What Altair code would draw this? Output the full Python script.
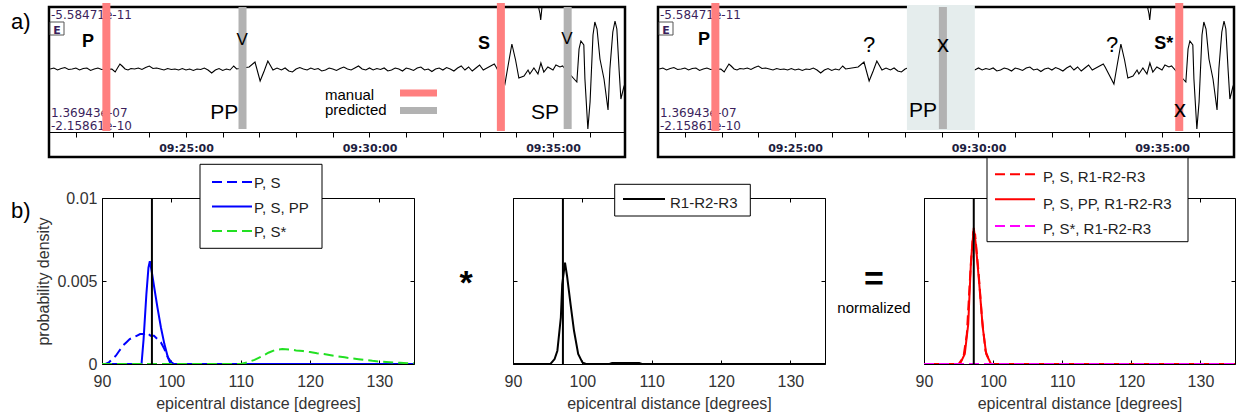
import altair as alt
import pandas as pd

FONT = "Liberation Sans"

# ---------------- (a) seismogram: one trace, drawn in both panels ----------------
# (time in minutes after 09:00, amplitude in display counts)
trace = [
    (21.3, 0), (21.4, 1), (21.5, -1), (21.6, 0.5), (21.7, 1.5), (21.8, -0.5), (21.9, 0), (22.0, 1),
    (22.1, -1), (22.2, 0.5), (22.3, 1), (22.4, -1.5), (22.5, 0), (22.6, 1), (22.7, -0.5),
    (22.98, 0), (23.07, -3), (23.15, 2), (23.20, 5), (23.26, 3), (23.34, 0), (23.42, -1), (23.50, 0.5),
    (23.6, 0), (23.7, 1), (23.8, -0.5), (23.9, 1.5), (24.0, 3), (24.1, 0.5), (24.2, 1), (24.3, 0),
    (24.4, -1), (24.5, 0.5), (24.6, -0.5), (24.7, 0), (24.8, -1), (24.9, 0.5), (25.0, -1), (25.1, 0),
    (25.2, -1.5), (25.3, 0), (25.4, -0.5), (25.5, 1), (25.6, -1), (25.7, -4), (25.8, -1), (25.9, 0.5),
    (26.0, -1.5), (26.1, 0), (26.2, -1), (26.3, 3), (26.38, 0),
    (26.72, 2), (26.88, 7), (27.02, -12), (27.13, -2), (27.23, 8), (27.37, -1), (27.48, 1),
    (27.6, -1), (27.7, 1), (27.8, -2), (27.9, -3), (28.0, 0), (28.1, 1.5), (28.2, 0), (28.3, -1),
    (28.4, 1), (28.5, -0.5), (28.6, 0.5), (28.7, -2), (28.8, -1), (28.9, 1), (29.0, 0), (29.1, -1.5),
    (29.2, 0.5), (29.3, 2), (29.4, 0), (29.5, -1), (29.6, 1), (29.7, 3), (29.8, 0), (29.9, -1),
    (30.0, 1), (30.1, -1), (30.2, 0.5), (30.3, -0.5), (30.4, 1), (30.5, -2), (30.6, -1), (30.7, 1),
    (30.8, 0), (30.9, -2), (31.0, 1), (31.1, 0), (31.2, -1.5), (31.3, 1), (31.4, 2), (31.5, -1),
    (31.6, 0), (31.7, -2.5), (31.8, 0), (31.9, 1), (32.0, -1), (32.1, 1.5), (32.2, 0), (32.3, -2),
    (32.4, 1), (32.5, 3), (32.6, -1), (32.7, 2), (32.8, -2), (32.9, 1), (33.0, 4), (33.1, -1),
    (33.2, 1), (33.3, 3), (33.4, 5), (33.45, 2),
    (33.69, -15), (33.77, 2), (33.88, 25), (33.98, 9), (34.07, -9), (34.21, -7), (34.32, -1),
    (34.37, -5), (34.48, 1), (34.59, -5), (34.67, 6), (34.75, -3), (34.86, 2), (35.00, -1),
    (35.08, 4), (35.19, 2), (35.26, 3),
    (35.60, -11), (35.65, -13), (35.71, 20), (35.76, 28), (35.84, 24), (35.87, -10), (35.95, -60),
    (36.01, -33), (36.09, 34), (36.14, 47), (36.20, 40), (36.28, 10), (36.39, -10), (36.50, -41),
    (36.55, 0), (36.63, 37), (36.69, 48), (36.74, 40), (36.80, 0), (36.85, -30), (36.93, -18), (36.96, -15),
]
spike_t = [34.605, 34.646, 34.665, 34.687, 34.700]
spike_a = [62, 55, 49, 57, 62]
time_domain = [21.267, 36.962]
time_ticks = list(range(22, 37))
amp_labels = ["-5.58471e-11", "1.36943e-07", "-2.15861e-10"]

left_pick_t = [22.83, 26.54, 33.58, 35.40]
left_pick_kind = ["manual", "predicted", "manual", "predicted"]
right_pick_t = [22.83, 29.03, 35.47]
right_pick_kind = ["manual", "predicted", "manual"]
pp_window = [28.05, 29.90]

# phase annotations: text, time, amplitude, size, weight
left_notes = [("P", 22.33, 22, 18, "bold"), ("V", 26.53, 24, 17, "normal"), ("PP", 26.04, -49.5, 21, "normal"),
              ("S", 33.12, 20, 18, "bold"), ("V", 35.38, 25, 17, "normal"), ("SP", 34.78, -50, 21, "normal")]
right_notes = [("P", 22.52, 24, 18, "bold"), ("?", 27.02, 17, 22, "normal"), ("x", 29.03, 17, 24, "normal"),
               ("PP", 28.49, -48, 21, "normal"), ("?", 33.64, 17, 22, "normal"), ("S*", 35.05, 20, 18, "bold"),
               ("x", 35.49, -48, 24, "normal")]

# ---------------- (b) epicentral distance densities ----------------
true_dist = 97.2
ps_d = [90, 90.5, 91, 91.5, 92, 92.5, 93, 93.5, 94, 94.5, 95, 95.5, 96, 96.5, 97, 97.5, 98, 98.5, 99, 99.5, 100, 100.5, 135]
ps_p = [0, 0, 0.0001, 0.0003, 0.0005, 0.0008, 0.0011, 0.0013, 0.0015, 0.0016, 0.0017, 0.0018, 0.0018, 0.0019,
        0.0017, 0.0017, 0.0015, 0.0013, 0.0009, 0.0004, 0.0001, 0, 0]
pspp_d = [90, 95.7, 96.0, 96.4, 96.7, 96.9, 97.2, 97.5, 98.0, 98.5, 99.0, 99.5, 99.9, 135]
pspp_p = [0, 0, 0.0015, 0.0042, 0.0058, 0.0062, 0.0055, 0.0047, 0.0034, 0.0022, 0.0012, 0.0004, 0, 0]
pss_d = [90, 110, 111, 112, 113, 114, 115, 116, 117, 118, 119, 120, 121, 122, 123, 124, 125, 126, 127, 128,
         129, 130, 131, 132, 133, 134, 135]
pss_p = [0, 0, 0.0001, 0.00025, 0.00045, 0.00068, 0.00085, 0.0009, 0.00088, 0.00082, 0.00078, 0.00072, 0.00065,
         0.0006, 0.00053, 0.00046, 0.0004, 0.00034, 0.00029, 0.00024, 0.00019, 0.00015, 0.00012, 0.00009,
         0.00007, 0.00005, 0.00004]
r_d = [90, 95.4, 96.0, 96.4, 96.9, 97.1, 97.5, 97.8, 98.3, 98.8, 99.4, 100.0, 100.5, 103.9, 104.3, 108.2, 108.6, 135]
r_p = [0, 0, 0.0003, 0.0008, 0.0028, 0.0048, 0.0061, 0.0053, 0.0036, 0.002, 0.0006, 0.0001, 0, 0, 0.00006,
       0.00006, 0, 0]
psr_d = [90, 95.0, 95.7, 96.2, 96.7, 97.1, 97.4, 97.9, 98.4, 98.9, 99.6, 135]
psr_p = [0, 0, 0.0004, 0.0018, 0.0055, 0.0079, 0.0078, 0.0055, 0.0027, 0.0008, 0, 0]
psppr_d = [90, 95.2, 95.9, 96.4, 96.8, 97.2, 97.5, 98.0, 98.5, 99.0, 99.7, 135]
psppr_p = [0, 0, 0.0006, 0.0024, 0.0062, 0.0082, 0.0072, 0.0048, 0.0022, 0.0006, 0, 0]
pssr_d = [90, 135]
pssr_p = [0, 0]
dist_ticks = [90, 100, 110, 120, 130]
dens_ticks = [0, 0.005, 0.01]

MANUAL = "#ff7f7f"
PREDICTED = "#b2b2b2"
AMPC = "#3b1f5c"
TXT = "#333333"

one = pd.DataFrame({"k": [0]})
xs_t = alt.Scale(domain=time_domain, nice=False, zero=False)
ys_a = alt.Scale(domain=[-88, 62], nice=False, zero=False)
xs_d = alt.Scale(domain=[90, 135], nice=False, zero=False)
ys_d = alt.Scale(domain=[0, 0.01], nice=False, zero=False)
NOFRAME = alt.ViewBackground(stroke="transparent", strokeWidth=0)


def px_text(txt, x, y, size, weight="normal", color="black", font=FONT, align="left", baseline="alphabetic"):
    return alt.Chart(one).mark_text(text=txt, fontSize=size, fontWeight=weight, color=color, font=font,
                                    align=align, baseline=baseline).encode(x=alt.value(x), y=alt.value(y))


time_axis = alt.Axis(orient="bottom", offset=-25, values=time_ticks,
                     labelExpr="datum.value % 5 == 0 ? '09:' + datum.value + ':00' : ''",
                     tickSize=5, tickColor="black", tickWidth=1, domainColor="black", domainWidth=1,
                     labelFont="DejaVu Sans", labelFontWeight="bold", labelFontSize=11, labelColor="#1e1e40",
                     labelPadding=5, labelOverlap=False, labelFlush=False, grid=False, title=None, zindex=1)


def seis_panel(pick_t, pick_kind, notes, window=None, legend=False, tag=None):
    tdf = pd.DataFrame(trace, columns=["t", "a"])
    layers = [
        px_text(amp_labels[0], 2, 11.7, 12, color=AMPC, font="DejaVu Sans"),
        px_text(amp_labels[1], 2, 110, 12, color=AMPC, font="DejaVu Sans"),
        px_text(amp_labels[2], 2, 123, 12, color=AMPC, font="DejaVu Sans"),
        alt.Chart(one).mark_rect(fill="white", stroke="#555555", strokeWidth=1).encode(
            x=alt.value(1), x2=alt.value(15), y=alt.value(15), y2=alt.value(28)),
        px_text("E", 8, 27, 11, "bold", color=AMPC, font="DejaVu Sans", align="center"),
        alt.Chart(tdf).mark_line(color="black", strokeWidth=1.1, clip=True).encode(
            x=alt.X("t:Q", scale=xs_t, axis=time_axis), y=alt.Y("a:Q", scale=ys_a, axis=None)),
        alt.Chart(pd.DataFrame({"t": spike_t, "a": spike_a})).mark_line(color="black", strokeWidth=1.1, clip=True).encode(
            x=alt.X("t:Q", scale=xs_t, axis=None), y=alt.Y("a:Q", scale=ys_a, axis=None)),
    ]
    if window:
        layers.append(alt.Chart(pd.DataFrame({"t": [window[0]], "t2": [window[1]]})).mark_rect(
            color="#e5eded", opacity=1).encode(
            x=alt.X("t:Q", scale=xs_t, axis=None), x2="t2:Q", y=alt.value(-2), y2=alt.value(123)))
    picks = pd.DataFrame({"t": pick_t, "kind": pick_kind})
    for kind, col, center, size in [("predicted", PREDICTED, 61, 122), ("manual", MANUAL, 60, 128)]:
        layers.append(alt.Chart(picks).transform_filter(alt.datum.kind == kind).mark_tick(
            color=col, thickness=8, size=size, opacity=1).encode(
            x=alt.X("t:Q", scale=xs_t, axis=None), y=alt.value(center)))
    for txt, t, a, size, weight in notes:
        layers.append(alt.Chart(pd.DataFrame({"t": [t], "a": [a]})).mark_text(
            text=txt, fontSize=size, fontWeight=weight, font=FONT, color="black", align="center",
            baseline="alphabetic").encode(
            x=alt.X("t:Q", scale=xs_t, axis=None), y=alt.Y("a:Q", scale=ys_a, axis=None)))
    if legend:
        layers += [
            px_text("manual", 276, 93, 15),
            px_text("predicted", 276, 108, 15),
            alt.Chart(one).mark_rule(color=MANUAL, strokeWidth=7).encode(
                x=alt.value(351), x2=alt.value(388), y=alt.value(86)),
            alt.Chart(one).mark_rule(color=PREDICTED, strokeWidth=7).encode(
                x=alt.value(351), x2=alt.value(388), y=alt.value(103.5)),
        ]
    if tag:
        layers.append(px_text(tag, -38, 22, 22))
    return alt.layer(*layers).resolve_axis(x="independent", y="independent").properties(
        width=576, height=150, view=alt.ViewBackground(stroke="black", strokeWidth=2.5, fill="white"))


def dens_panel(series, box, rows, width, ylabels):
    bottom_axis = alt.Axis(orient="bottom", values=dist_ticks, tickSize=4, offset=-4, domain=False, grid=False,
                           tickColor="black", labelFont=FONT, labelFontSize=16, labelColor=TXT, labelPadding=9,
                           labelFlush=False, title="epicentral distance [degrees]", titleFont=FONT,
                           titleFontSize=16, titleFontWeight="normal", titleColor=TXT, titlePadding=6)
    left_kw = dict(orient="left", values=dens_ticks, tickSize=4, offset=-4, domain=False, grid=False,
                   tickColor="black")
    if ylabels:
        left_axis = alt.Axis(**left_kw, format=".3~f", labelFont=FONT, labelFontSize=16, labelColor=TXT,
                             labelPadding=5, title="probability density", titleFont=FONT, titleFontSize=16,
                             titleFontWeight="normal", titleColor=TXT, titlePadding=5)
    else:
        left_axis = alt.Axis(**left_kw, labels=False, title=None)
    top_axis = alt.Axis(orient="top", values=dist_ticks, tickSize=4, offset=-4, domain=False, grid=False,
                        tickColor="black", labels=False, title=None)
    right_axis = alt.Axis(orient="right", values=dens_ticks, tickSize=4, offset=-4, domain=False, grid=False,
                          tickColor="black", labels=False, title=None)
    layers = []
    for i, (xd, yp, color, dashed) in enumerate(series):
        mk = dict(color=color, strokeWidth=2, clip=True)
        if dashed:
            mk["strokeDash"] = [10, 5]
        if i == 0:
            enc = dict(x=alt.X("d:Q", scale=xs_d, axis=bottom_axis), y=alt.Y("p:Q", scale=ys_d, axis=left_axis))
        else:
            enc = dict(x=alt.X("d:Q", scale=xs_d, axis=None), y=alt.Y("p:Q", scale=ys_d, axis=None))
        layers.append(alt.Chart(pd.DataFrame({"d": xd, "p": yp})).mark_line(**mk).encode(**enc))
    ref = pd.DataFrame({"d": [true_dist], "lo": [0.0], "hi": [0.01]})
    layers.append(alt.Chart(ref).mark_rule(color="black", strokeWidth=2).encode(
        x=alt.X("d:Q", scale=xs_d, axis=top_axis), y=alt.Y("lo:Q", scale=ys_d, axis=right_axis), y2="hi:Q"))
    bx1, bx2, by1, by2, lx1, lx2, tx = box
    layers.append(alt.Chart(one).mark_rect(fill="white", stroke="black", strokeWidth=1).encode(
        x=alt.value(bx1), x2=alt.value(bx2), y=alt.value(by1), y2=alt.value(by2)))
    for label, color, dashed, yl, yt in rows:
        mk = dict(color=color, strokeWidth=2)
        if dashed:
            mk["strokeDash"] = [10, 5]
        layers.append(alt.Chart(one).mark_rule(**mk).encode(x=alt.value(lx1), x2=alt.value(lx2), y=alt.value(yl)))
        layers.append(px_text(label, tx, yt, 15, color="#222222", baseline="middle"))
    return alt.layer(*layers).resolve_axis(x="independent", y="independent").properties(
        width=width, height=166, view=alt.ViewBackground(stroke="black", strokeWidth=1, fill="white"))


BLUE, GREEN, RED, MAG = "#0000ff", "#22e022", "#ff0000", "#ff00ff"

p1 = dens_panel(
    [(ps_d, ps_p, BLUE, True), (pspp_d, pspp_p, BLUE, False), (pss_d, pss_p, GREEN, True)],
    (98, 220, -33.7, 50.3, 110, 150, 152),
    [("P, S", BLUE, True, -16, -15), ("P, S, PP", BLUE, False, 8.5, 9.5), ("P, S*", GREEN, True, 33, 34)],
    312, True)
p2 = dens_panel(
    [(r_d, r_p, "black", False)],
    (101.7, 237.3, -13.7, 18, 110, 152, 157),
    [("R1-R2-R3", "black", False, 1, 5)],
    312, False)
p3 = dens_panel(
    [(psr_d, psr_p, RED, True), (psppr_d, psppr_p, RED, False), (pssr_d, pssr_p, MAG, True)],
    (63, 264, -40.3, 43.7, 71, 111, 119),
    [("P, S, R1-R2-R3", RED, True, -23.7, -21), ("P, S, PP, R1-R2-R3", RED, False, 1.3, 5.5),
     ("P, S*, R1-R2-R3", MAG, True, 28, 31)],
    311, False)

b_lab = px_text("b)", -38, 20, 22).properties(width=33, height=166, view=NOFRAME)
star = px_text("*", 32, 96, 34, "bold", align="center").properties(width=59, height=166, view=NOFRAME)
eq = alt.layer(
    px_text("=", 29, 92, 34, "bold", align="center"),
    px_text("normalized", 29, 115, 15, align="center"),
).properties(width=59, height=166, view=NOFRAME)

top = alt.hconcat(
    seis_panel(left_pick_t, left_pick_kind, left_notes, legend=True, tag="a)"),
    seis_panel(right_pick_t, right_pick_kind, right_notes, window=pp_window),
    spacing=33, bounds="flush")
bottom = alt.hconcat(b_lab, p1, star, p2, eq, p3, spacing=20, bounds="flush")

chart = alt.vconcat(top, bottom, spacing=-3).properties(
    padding={"left": 9, "top": 1, "right": 0, "bottom": 0}
).configure_view(stroke="transparent", strokeWidth=0).configure(background="white")

chart.save("out.html", embed_options={"renderer": "svg", "actions": False})
